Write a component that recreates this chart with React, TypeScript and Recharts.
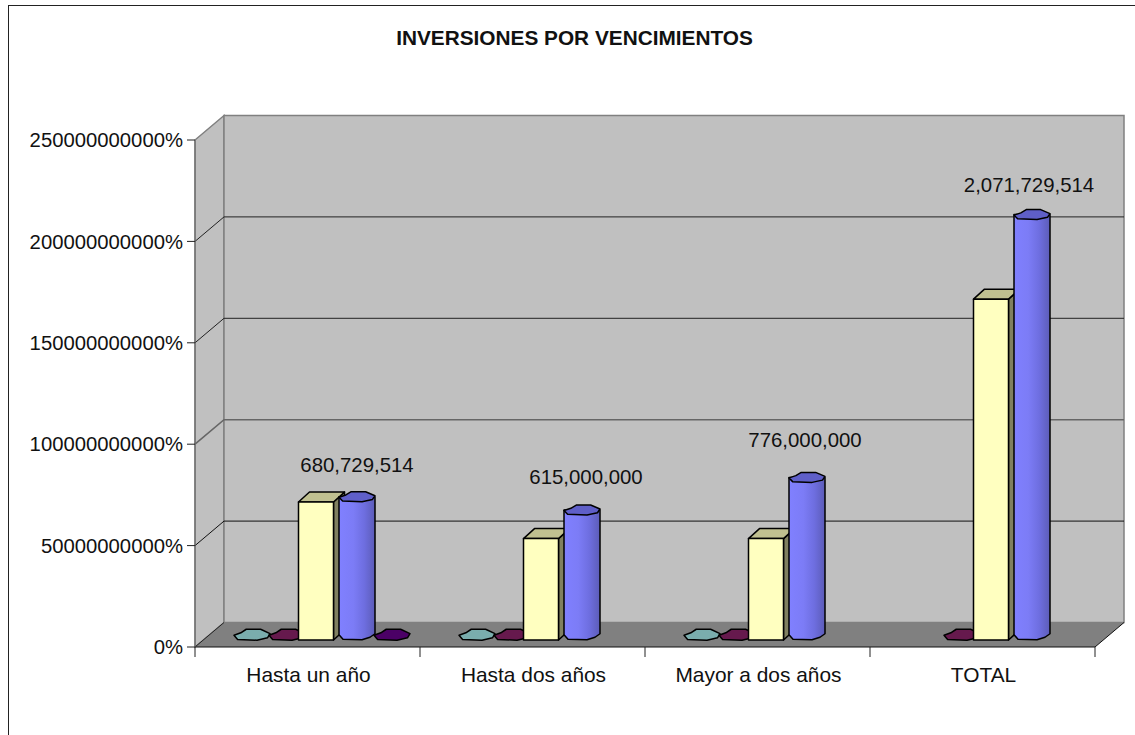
import { BarChart, Bar, XAxis, YAxis, LabelList, usePlotArea } from 'recharts'

const categories = ['Hasta un año', 'Hasta dos años', 'Mayor a dos años', 'TOTAL']
const tealValues = [0, 0, 0, null]
const maroonValues = [0, 0, 0, 0]
const yellowValues = [680729514, 500000000, 500000000, 1680729514]
const blueValues = [680729514, 615000000, 776000000, 2071729514]
const purpleValues = [0, null, null, null]
const yTicks = [0, 500000000, 1000000000, 1500000000, 2000000000, 2500000000]

// hand placed data labels, these sit a bit off centre in the original
const labelNudgeX = [0, 4, -2, -3]
const labelNudgeY = [-32, -33, -37, -30]
// the third wall line comes out greyer and heavier in the original
const gridStrokes = ['#222', '#222', '#666', '#111']
const gridWidths = [1, 1, 1.6, 1]

const data = categories.map((name, i) => ({
  name,
  teal: tealValues[i],
  maroon: maroonValues[i],
  yellow: yellowValues[i],
  blue: blueValues[i],
  purple: purpleValues[i],
}))

const FONT = '"Liberation Sans", Arial, sans-serif'
const DEPTH_X = 29
const DEPTH_Y = 24.5
const yMax = yTicks[yTicks.length - 1]

function Walls() {
  const plot = usePlotArea()
  if (!plot) return null
  const left = plot.x
  const right = plot.x + plot.width
  const top = plot.y
  const bottom = plot.y + plot.height
  const yOf = (v: number) => bottom - (v / yMax) * plot.height
  const bandW = plot.width / categories.length
  const edges = [0, 1, 2, 3, 4].map((i) => left + i * bandW)

  return (
    <g>
      <rect x={8.5} y={5.5} width={1300} height={1000} fill="#fff" stroke="#222" strokeWidth={1} />
      <text x={574.5} y={44.5} textAnchor="middle" fontFamily={FONT} fontWeight="bold" fontSize={20.8} fill="#111">
        INVERSIONES POR VENCIMIENTOS
      </text>
      <polygon
        points={`${left},${top} ${left + DEPTH_X},${top - DEPTH_Y} ${left + DEPTH_X},${bottom - DEPTH_Y} ${left},${bottom}`}
        fill="#c0c0c0"
        stroke="#808080"
        strokeWidth={1.5}
      />
      <rect
        x={left + DEPTH_X}
        y={top - DEPTH_Y}
        width={plot.width}
        height={plot.height}
        fill="#c0c0c0"
        stroke="#808080"
        strokeWidth={1.5}
      />
      <polygon
        points={`${left},${bottom} ${left + DEPTH_X},${bottom - DEPTH_Y} ${right + DEPTH_X},${bottom - DEPTH_Y} ${right},${bottom}`}
        fill="#808080"
      />
      {yTicks.slice(1, -1).map((t, i) => (
        <polyline
          key={t}
          points={`${left},${yOf(t)} ${left + DEPTH_X},${yOf(t) - DEPTH_Y} ${right + DEPTH_X},${yOf(t) - DEPTH_Y}`}
          fill="none"
          stroke={gridStrokes[3 - i]}
          strokeWidth={gridWidths[3 - i]}
        />
      ))}
      <line x1={left} y1={bottom} x2={left + DEPTH_X} y2={bottom - DEPTH_Y} stroke="#222" />
      <line x1={right} y1={bottom} x2={right + DEPTH_X} y2={bottom - DEPTH_Y} stroke="#111" />
      <line x1={left} y1={bottom} x2={right} y2={bottom} stroke="#111" />
      {edges.map((x) => (
        <line key={x} x1={x} y1={bottom} x2={x} y2={bottom + 10} stroke="#222" />
      ))}
    </g>
  )
}

// the flat zero bars and the cylinder caps come out chunky in the original
function blob(cx: number, cy: number, rx: number, ry: number) {
  const pts = [
    [-1, 0.1],
    [-0.62, -0.35],
    [-0.32, -1],
    [0.48, -1],
    [1, -0.2],
    [0.86, 0.55],
    [0.28, 1],
    [-0.8, 0.85],
  ]
  return pts.map(([a, b]) => `${cx + a * rx},${cy + b * ry}`).join(' ')
}

function flatShape(key: string, fill: string) {
  return (p: any) => {
    if (p.payload[key] == null) return <g />
    const cx = p.x + p.width / 2 + DEPTH_X / 2
    const cy = p.y - DEPTH_Y / 2
    return <polygon points={blob(cx, cy, 18, 5.5)} fill={fill} stroke="#000" strokeWidth={1.5} strokeLinejoin="round" />
  }
}

function BoxBar(p: any) {
  const x = p.x + 8.5
  const y = p.y - 7
  const w = p.width
  const h = p.height
  const dx = 11
  const dy = 10
  return (
    <g stroke="#000" strokeWidth={1.5} strokeLinejoin="round">
      <polygon points={`${x + w},${y} ${x + w + dx},${y - dy} ${x + w + dx},${y + h - dy} ${x + w},${y + h}`} fill="#808060" />
      <polygon points={`${x},${y} ${x + dx},${y - dy} ${x + w + dx},${y - dy} ${x + w},${y}`} fill="#c0c090" />
      <rect x={x} y={y} width={w} height={h} fill="#ffffc0" />
    </g>
  )
}

function CylinderBar(p: any) {
  const cx = p.x + p.width / 2 + DEPTH_X / 2
  const cyTop = p.y - DEPTH_Y / 2
  const cyBottom = cyTop + p.height
  const r = 18
  return (
    <g stroke="#000" strokeWidth={1.5} strokeLinejoin="round">
      <path
        d={`M${cx - r},${cyTop} L${cx - r},${cyBottom} L${cx - r + 4},${cyBottom + 4.5} L${cx + 5},${cyBottom + 5} L${cx + r - 5},${cyBottom + 2.5} L${cx + r},${cyBottom - 1} L${cx + r},${cyTop} Z`}
        fill="url(#cylinderSide)"
      />
      <polygon points={blob(cx, cyTop, r, 5)} fill="#5f5fc8" />
    </g>
  )
}

function ValueLabel(p: any) {
  const i = p.index
  return (
    <text
      x={p.x + p.width / 2 + DEPTH_X / 2 + labelNudgeX[i]}
      y={p.y - DEPTH_Y / 2 + labelNudgeY[i]}
      textAnchor="middle"
      dominantBaseline="central"
      fontFamily={FONT}
      fontSize={20.4}
      fill="#111"
    >
      {Number(p.value).toLocaleString('en-US')}
    </text>
  )
}

export default function App() {
  const tick = { fontFamily: FONT, fontSize: 20.3, fill: '#111' }
  const xTick = { fontFamily: FONT, fontSize: 20.9, fill: '#111', dx: 1 }
  return (
    <div style={{ position: 'absolute', left: 0, top: 0, width: 1135, height: 735, overflow: 'hidden', background: '#fff' }}>
      <BarChart
        width={1135}
        height={735}
        data={data}
        margin={{ top: 140, right: 40, bottom: 0, left: 0 }}
        barSize={35}
        barGap={0}
      >
        <defs>
          <linearGradient id="cylinderSide" x1="0" y1="0" x2="1" y2="0">
            <stop offset="0%" stopColor="#8080ff" />
            <stop offset="40%" stopColor="#7c7cf6" />
            <stop offset="70%" stopColor="#6e6ee0" />
            <stop offset="100%" stopColor="#5c5cb8" />
          </linearGradient>
        </defs>
        <Walls />
        <XAxis dataKey="name" height={88} interval={0} tickLine={false} axisLine={false} tick={xTick} tickMargin={14} />
        <YAxis
          width={195}
          domain={[0, yMax]}
          ticks={yTicks}
          interval={0}
          tick={tick}
          tickSize={8}
          tickMargin={4}
          tickLine={{ stroke: '#222' }}
          axisLine={{ stroke: '#666' }}
          tickFormatter={(v: number) => `${v * 100}%`}
        />
        <Bar dataKey="teal" isAnimationActive={false} shape={flatShape('teal', '#7aadad')} />
        <Bar dataKey="maroon" isAnimationActive={false} shape={flatShape('maroon', '#66194d')} />
        <Bar dataKey="yellow" isAnimationActive={false} shape={BoxBar} />
        <Bar dataKey="blue" isAnimationActive={false} shape={CylinderBar}>
          <LabelList dataKey="blue" content={ValueLabel} />
        </Bar>
        <Bar dataKey="purple" isAnimationActive={false} shape={flatShape('purple', '#4b0066')} />
      </BarChart>
    </div>
  )
}
